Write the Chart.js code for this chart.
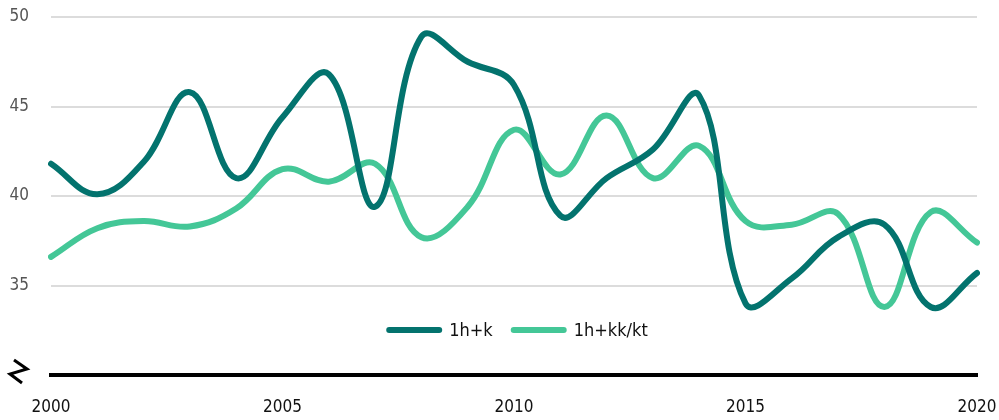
<!DOCTYPE html>
<html>
<head>
<meta charset="utf-8">
<script src="https://cdn.jsdelivr.net/npm/chart.js@4/dist/chart.umd.min.js"></script>
<style>
  html, body { margin: 0; padding: 0; background: #fff; }
  #wrap { width: 999px; height: 420px; }
</style>
</head>
<body>
<div id="wrap"><canvas id="c" width="999" height="420"></canvas></div>
<script>
const years = [2000, 2001, 2002, 2003, 2004, 2005, 2006, 2007, 2008, 2009, 2010,
               2011, 2012, 2013, 2014, 2015, 2016, 2017, 2018, 2019, 2020];
const seriesNames = ['1h+k', '1h+kk/kt'];
const oneRoomKitchen = [41.8, 40.1, 41.9, 45.8, 41.0, 44.4, 46.8, 39.4, 48.9, 47.5, 46.2,
                        38.9, 41.0, 42.6, 45.6, 34.0, 35.4, 37.7, 38.4, 33.8, 35.7];
const oneRoomKitchenette = [36.6, 38.2, 38.6, 38.3, 39.3, 41.5, 40.8, 41.8, 37.7, 39.4, 43.7,
                            41.2, 44.5, 41.0, 42.8, 38.6, 38.4, 39.0, 33.8, 39.1, 37.4];
const yTicks = [30, 35, 40, 45, 50];
const xTickYears = [2000, 2005, 2010, 2015, 2020];

const DARK = '#03736E';
const LIGHT = '#44C797';
const FONT = "'DejaVu Sans Condensed', 'Liberation Sans Narrow', sans-serif";

// Legend drawn inside the plot, just above the baseline
const innerLegend = {
  id: 'innerLegend',
  afterDatasetsDraw(chart) {
    const ctx = chart.ctx;
    const area = chart.chartArea;
    const sw = 56, gapText = 7, gapItem = 18;
    ctx.save();
    ctx.font = '18px ' + FONT;
    const items = chart.data.datasets.map(d => ({ label: d.label, color: d.borderColor, w: ctx.measureText(d.label).width }));
    let total = 0;
    items.forEach((it, i) => { total += sw + gapText + it.w + (i < items.length - 1 ? gapItem : 0); });
    let x = (area.left + area.right) / 2 + 3 - total / 2;
    const y = area.bottom - 45;
    items.forEach(it => {
      ctx.strokeStyle = it.color;
      ctx.lineWidth = 6;
      ctx.lineCap = 'round';
      ctx.beginPath();
      ctx.moveTo(x + 3, y);
      ctx.lineTo(x + sw - 3, y);
      ctx.stroke();
      x += sw + gapText;
      ctx.fillStyle = '#111';
      ctx.textBaseline = 'middle';
      ctx.textAlign = 'left';
      ctx.fillText(it.label, x, y + 1);
      x += it.w + gapItem;
    });
    ctx.restore();
  }
};

// Axis-break mark beside the baseline
const axisBreak = {
  id: 'axisBreak',
  afterDraw(chart) {
    const ctx = chart.ctx;
    const yb = chart.scales.y.getPixelForValue(30);
    ctx.save();
    ctx.strokeStyle = '#000';
    ctx.lineWidth = 3;
    ctx.lineJoin = 'miter';
    ctx.lineCap = 'butt';
    ctx.beginPath();
    ctx.moveTo(14, yb - 15);
    ctx.lineTo(27, yb - 6);
    ctx.lineTo(10, yb - 1);
    ctx.lineTo(22, yb + 8);
    ctx.stroke();
    ctx.restore();
  }
};

new Chart(document.getElementById('c'), {
  type: 'line',
  data: {
    labels: years,
    datasets: [
      { label: seriesNames[0], data: oneRoomKitchen, borderColor: DARK, backgroundColor: DARK },
      { label: seriesNames[1], data: oneRoomKitchenette, borderColor: LIGHT, backgroundColor: LIGHT }
    ]
  },
  options: {
    responsive: false,
    animation: false,
    devicePixelRatio: 1,
    layout: { padding: { left: 0, right: 22, top: 17, bottom: 0 } },
    elements: {
      line: { borderWidth: 6, tension: 0.4, borderCapStyle: 'round', fill: false },
      point: { radius: 0, hoverRadius: 0 }
    },
    plugins: { legend: { display: false }, tooltip: { enabled: false } },
    scales: {
      x: {
        type: 'category',
        offset: false,
        afterFit(scale) {
          scale.height = 45;
          scale.paddingLeft = 0; scale.paddingRight = 0;
          scale.paddingTop = 0; scale.paddingBottom = 0;
        },
        grid: { display: false, drawTicks: false },
        border: { display: true, color: '#000', width: 4 },
        ticks: {
          autoSkip: false,
          maxRotation: 0,
          padding: 22,
          color: '#111',
          font: { family: FONT, size: 17 },
          callback(v, i) { const yr = years[i]; return xTickYears.includes(yr) ? String(yr) : ''; }
        }
      },
      y: {
        min: 30,
        max: 50,
        afterBuildTicks(scale) { scale.ticks = yTicks.map(v => ({ value: v })); },
        afterFit(scale) {
          scale.width = 51;
          scale.paddingTop = 0; scale.paddingBottom = 0;
          scale.paddingLeft = 0; scale.paddingRight = 0;
        },
        border: { display: false },
        grid: {
          drawTicks: false,
          lineWidth: 2,
          color: ctx => ctx.tick && ctx.tick.value === 30 ? 'rgba(0,0,0,0)' : '#DCDCDC'
        },
        ticks: {
          padding: 22,
          color: '#555',
          font: { family: FONT, size: 17 },
          callback(v) { return v === 30 ? '' : String(v); }
        }
      }
    }
  },
  plugins: [innerLegend, axisBreak]
});
</script>
</body>
</html>
